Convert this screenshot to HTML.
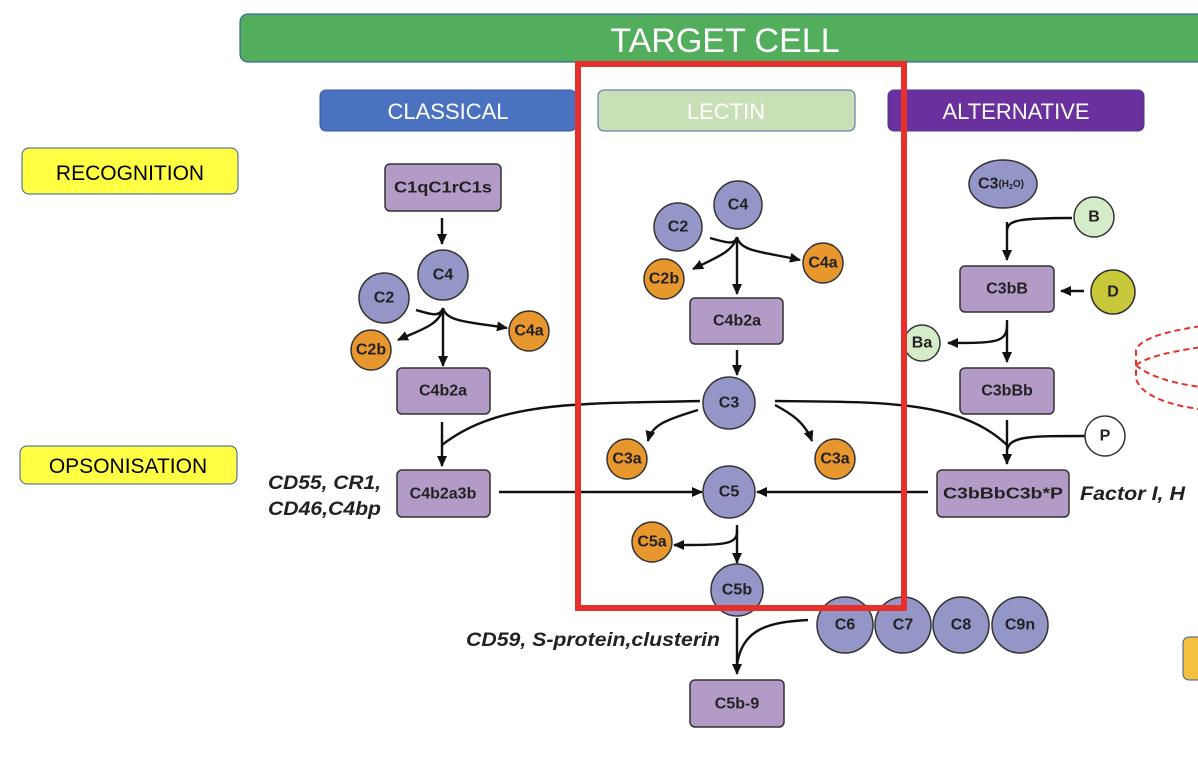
<!DOCTYPE html>
<html><head><meta charset="utf-8"><style>
html,body{margin:0;padding:0;background:#fff;width:1198px;height:760px;overflow:hidden}
svg{display:block}
.h{font-family:"Liberation Sans",sans-serif;fill:#fff;text-anchor:middle}
.n{font-family:"Liberation Sans",sans-serif;font-weight:bold;font-size:16px;fill:#222;text-anchor:middle;dominant-baseline:central}
.i{font-family:"Liberation Sans",sans-serif;font-weight:bold;font-style:italic;font-size:19px;fill:#222}
.bx{fill:#b39bc8;stroke:#333;stroke-width:1.5}
.cp{fill:#9496c8;stroke:#333;stroke-width:1.5}
.co{fill:#e8962e;stroke:#333;stroke-width:1.5}
.ln{fill:none;stroke:#111;stroke-width:2.4}
</style></head><body>
<svg width="1198" height="760" viewBox="0 0 1198 760">
<defs><marker id="a" markerWidth="11" markerHeight="10" refX="10" refY="5" orient="auto" markerUnits="userSpaceOnUse"><path d="M0,0 L11,5 L0,10 Z" fill="#111"/></marker></defs>
<rect x="240" y="14" width="980" height="48" rx="8" fill="#52ad5c" stroke="#3a6a9a" stroke-width="1.2"/>
<text x="725" y="52" class="h" font-size="34">TARGET CELL</text>
<rect x="320" y="90" width="256" height="41" rx="6" fill="#4a72c0" stroke="#3a5a9a"/>
<text x="448" y="119" class="h" font-size="22">CLASSICAL</text>
<rect x="598" y="90" width="257" height="41" rx="6" fill="#c9e0b7" stroke="#4a6aa0"/>
<text x="726" y="119" class="h" font-size="22">LECTIN</text>
<rect x="888" y="90" width="256" height="41" rx="6" fill="#6a309e" stroke="#4a3a8a"/>
<text x="1016" y="119" class="h" font-size="22">ALTERNATIVE</text>
<rect x="22" y="148" width="216" height="46" rx="7" fill="#ffff44" stroke="#3a5a9a"/>
<text x="130" y="180" font-family="Liberation Sans,sans-serif" font-size="21" text-anchor="middle">RECOGNITION</text>
<rect x="20" y="446" width="217" height="38" rx="7" fill="#ffff44" stroke="#3a5a9a"/>
<text x="128" y="473" font-family="Liberation Sans,sans-serif" font-size="21" text-anchor="middle">OPSONISATION</text>

<!-- classical -->
<rect class="bx" x="385" y="164" width="116" height="47" rx="5"/><text class="n" x="443" y="188" textLength="98" lengthAdjust="spacingAndGlyphs">C1qC1rC1s</text>
<line class="ln" x1="442" y1="218" x2="442" y2="244" marker-end="url(#a)"/>
<circle class="cp" cx="384" cy="298" r="25"/><text class="n" x="384" y="298">C2</text>
<circle class="cp" cx="443" cy="275" r="25"/><text class="n" x="443" y="275">C4</text>
<path class="ln" d="M416,310 C430,314 440,318 443,308 C440,325 420,330 398,340" marker-end="url(#a)"/>
<path class="ln" d="M443,308 C446,322 470,322 507,328" marker-end="url(#a)"/>
<line class="ln" x1="443" y1="308" x2="443" y2="366" marker-end="url(#a)"/>
<circle class="co" cx="529" cy="331" r="20"/><text class="n" x="529" y="331">C4a</text>
<circle class="co" cx="371" cy="350" r="20"/><text class="n" x="371" y="350">C2b</text>
<rect class="bx" x="397" y="368" width="93" height="46" rx="5"/><text class="n" x="443" y="391">C4b2a</text>
<line class="ln" x1="442" y1="422" x2="442" y2="466" marker-end="url(#a)"/>
<rect class="bx" x="397" y="470" width="93" height="47" rx="5"/><text class="n" x="443" y="494">C4b2a3b</text>
<text class="i" x="268" y="489" textLength="113" lengthAdjust="spacingAndGlyphs">CD55, CR1,</text>
<text class="i" x="268" y="515" textLength="113" lengthAdjust="spacingAndGlyphs">CD46,C4bp</text>
<path class="ln" d="M700,401 C580,404 500,400 442,445"/>

<!-- lectin -->
<circle class="cp" cx="678" cy="227" r="24"/><text class="n" x="678" y="227">C2</text>
<circle class="cp" cx="738" cy="205" r="24"/><text class="n" x="738" y="205">C4</text>
<path class="ln" d="M710,238 C725,242 735,246 737,237 C733,252 715,258 693,269" marker-end="url(#a)"/>
<path class="ln" d="M737,237 C740,252 765,252 800,260" marker-end="url(#a)"/>
<line class="ln" x1="737" y1="237" x2="737" y2="294" marker-end="url(#a)"/>
<circle class="co" cx="664" cy="279" r="20"/><text class="n" x="664" y="279">C2b</text>
<circle class="co" cx="823" cy="263" r="20"/><text class="n" x="823" y="263">C4a</text>
<rect class="bx" x="690" y="298" width="93" height="46" rx="5"/><text class="n" x="737" y="321">C4b2a</text>
<line class="ln" x1="737" y1="350" x2="737" y2="375" marker-end="url(#a)"/>
<circle class="cp" cx="729" cy="403" r="26"/><text class="n" x="729" y="403">C3</text>
<path class="ln" d="M698,410 C665,420 652,425 648,441" marker-end="url(#a)"/>
<path class="ln" d="M775,405 C790,413 805,422 812,441" marker-end="url(#a)"/>
<circle class="co" cx="627" cy="459" r="20"/><text class="n" x="627" y="459">C3a</text>
<circle class="co" cx="835" cy="459" r="20"/><text class="n" x="835" y="459">C3a</text>
<circle class="cp" cx="729" cy="492" r="26"/><text class="n" x="729" y="492">C5</text>
<line class="ln" x1="499" y1="492" x2="702" y2="492" marker-end="url(#a)"/>
<line class="ln" x1="928" y1="492" x2="757" y2="492" marker-end="url(#a)"/>
<line class="ln" x1="737" y1="525" x2="737" y2="563" marker-end="url(#a)"/>
<path class="ln" d="M737,530 C738,545 725,545 674,545" marker-end="url(#a)"/>
<circle class="co" cx="652" cy="542" r="20"/><text class="n" x="652" y="542">C5a</text>
<circle class="cp" cx="737" cy="590" r="26"/><text class="n" x="737" y="590">C5b</text>
<line class="ln" x1="737" y1="618" x2="737" y2="674" marker-end="url(#a)"/>
<path class="ln" d="M808,620 C770,622 742,628 737,665"/>
<circle class="cp" cx="1020" cy="625" r="28"/><text class="n" x="1020" y="625">C9n</text>
<circle class="cp" cx="961" cy="625" r="28"/><text class="n" x="961" y="625">C8</text>
<circle class="cp" cx="903" cy="625" r="28"/><text class="n" x="903" y="625">C7</text>
<circle class="cp" cx="845" cy="625" r="28"/><text class="n" x="845" y="625">C6</text>
<text class="i" x="466" y="646" textLength="254" lengthAdjust="spacingAndGlyphs">CD59, S-protein,clusterin</text>
<rect class="bx" x="690" y="680" width="94" height="47" rx="5"/><text class="n" x="737" y="704">C5b-9</text>

<!-- alternative -->
<ellipse class="cp" cx="1003" cy="184" rx="34" ry="24"/><text class="n" x="1001" y="184">C3<tspan font-size="10">(H</tspan><tspan font-size="7" dy="3">2</tspan><tspan font-size="10" dy="-3">O)</tspan></text>
<circle cx="1094" cy="217" r="20" fill="#d5ecc9" stroke="#333" stroke-width="1.5"/><text class="n" x="1094" y="217">B</text>
<path class="ln" d="M1072,218 C1020,218 1008,220 1007,230"/>
<line class="ln" x1="1007" y1="222" x2="1007" y2="260" marker-end="url(#a)"/>
<rect class="bx" x="960" y="266" width="94" height="46" rx="5"/><text class="n" x="1007" y="289">C3bB</text>
<circle cx="1113" cy="292" r="22" fill="#c8c83a" stroke="#333" stroke-width="1.5"/><text class="n" x="1113" y="292">D</text>
<line class="ln" x1="1084" y1="291" x2="1061" y2="291" marker-end="url(#a)"/>
<line class="ln" x1="1007" y1="320" x2="1007" y2="362" marker-end="url(#a)"/>
<path class="ln" d="M1007,325 C1007,343 995,343 948,343" marker-end="url(#a)"/>
<circle cx="922" cy="343" r="18" fill="#d5ecc9" stroke="#333" stroke-width="1.5"/><text class="n" x="922" y="343">Ba</text>
<rect class="bx" x="960" y="368" width="94" height="46" rx="5"/><text class="n" x="1007" y="391">C3bBb</text>
<path class="ln" d="M775,401 C880,402 960,400 1007,445"/>
<line class="ln" x1="1007" y1="420" x2="1007" y2="464" marker-end="url(#a)"/>
<path class="ln" d="M1085,436 C1030,436 1010,436 1007,450"/>
<circle cx="1105" cy="436" r="20" fill="#fff" stroke="#333" stroke-width="1.5"/><text class="n" x="1105" y="436">P</text>
<rect class="bx" x="937" y="470" width="132" height="47" rx="5"/><text class="n" x="1003" y="494" textLength="120" lengthAdjust="spacingAndGlyphs">C3bBbC3b*P</text>
<text class="i" x="1080" y="500" textLength="105" lengthAdjust="spacingAndGlyphs">Factor I, H</text>

<path d="M1210,325 C1170,330 1140,338 1136,350 L1136,378 C1140,398 1180,408 1210,410 M1136,365 C1150,355 1180,350 1210,346 M1136,365 C1150,378 1180,385 1210,388" fill="none" stroke="#e8302a" stroke-width="2" stroke-dasharray="6,4"/>
<rect x="1183" y="637" width="40" height="43" rx="6" fill="#f4c040" stroke="#3a5a9a"/>

<rect x="578" y="64" width="326" height="544" fill="none" stroke="#e8302a" stroke-width="6"/>
</svg>
</body></html>
